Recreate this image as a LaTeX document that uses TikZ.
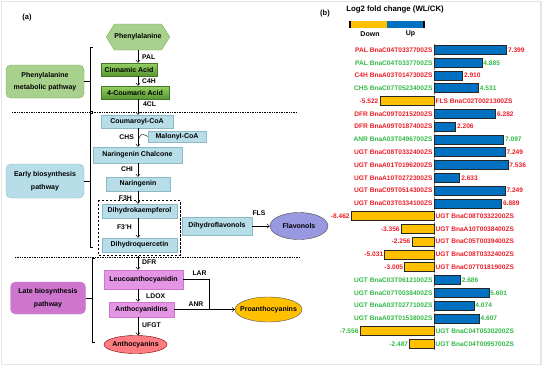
\documentclass[tikz,border=0pt]{standalone}
\usepackage{fontspec}
\setmainfont{Liberation Sans}
\usetikzlibrary{arrows.meta,shapes.symbols,shapes.geometric,fit}

\definecolor{lgreen}{RGB}{169,209,142}
\definecolor{dgreen}{RGB}{112,173,71}
\definecolor{tgreen}{RGB}{150,208,98}
\definecolor{bgreen}{RGB}{88,150,52}
\definecolor{lcyan}{RGB}{183,222,232}
\definecolor{ecyan}{RGB}{140,185,195}
\definecolor{lviolet}{RGB}{228,150,228}
\definecolor{dviolet}{RGB}{206,118,206}
\definecolor{lavender}{RGB}{153,153,225}
\definecolor{salmon}{RGB}{255,125,130}
\definecolor{amber}{RGB}{255,192,0}
\definecolor{upblue}{RGB}{0,112,192}
\definecolor{txtred}{RGB}{235,30,40}
\definecolor{txtgreen}{RGB}{50,185,70}

\begin{document}
\begin{tikzpicture}[x=1pt, y=-1pt,
  font=\fontsize{7}{8}\selectfont\bfseries,
  >={Straight Barb[length=2.6pt,width=4.5pt]},
  grpbox/.style={draw, rounded corners=5pt, align=center, font=\fontsize{7}{12.5}\selectfont\bfseries, minimum width=78pt, minimum height=33pt, inner sep=0},
  greenbox/.style={draw=bgreen!80!black, top color=tgreen, bottom color=bgreen, minimum height=13pt, inner sep=0},
  cyanbox/.style={draw=ecyan, fill=lcyan, inner sep=0},
  violetbox/.style={draw=dviolet, fill=lviolet, inner sep=0},
  product/.style={ellipse, draw, inner sep=0},
  enz/.style={inner sep=0, font=\fontsize{6.8}{7}\selectfont\bfseries},
  upbar/.style={draw=black!85, fill=upblue, line width=0.7pt},
  downbar/.style={draw=black!85, fill=amber, line width=0.7pt},
  gene/.style={inner sep=0.8pt, font=\fontsize{6.6}{7}\selectfont\bfseries},
]
\useasboundingbox (0,0) rectangle (543,367);
\draw[gray!20, line width=1.5pt] (1.5,1.5) rectangle (541,364.5);

% (a) pathway
\node[font=\fontsize{7.5}{8}\selectfont\bfseries] (a) at (27,18) {(a)};
\coordinate (ax) at (138,0);

\node[signal, signal to=west and east, signal pointer angle=116, draw=dgreen, fill=lgreen, minimum width=53pt, minimum height=26pt, inner sep=0] (phe) at (138,37) {Phenylalanine};
\node[greenbox, minimum width=56pt] (cin) at (129,69.5) {Cinnamic Acid};
\node[greenbox, minimum width=68pt] (cou) at (135,92.5) {4-Coumaric Acid};

\node[cyanbox, minimum width=72pt, minimum height=13pt] (coa) at (137,121.5) {Coumaroyl-CoA};
\node[cyanbox, minimum width=58pt, minimum height=11pt] (mal) at (177,136.5) {Malonyl-CoA};
\node[cyanbox, minimum width=89pt, minimum height=16pt] (nch) at (137.5,155) {Naringenin Chalcone};
\node[cyanbox, minimum width=64pt, minimum height=14pt] (nar) at (138,184) {Naringenin};
\node[cyanbox, minimum width=75pt, minimum height=14pt] (dhk) at (139.5,211) {Dihydrokaempferol};
\node[cyanbox, minimum width=75pt, minimum height=14pt] (dhq) at (139.5,245) {Dihydroquercetin};
\node[draw, line width=0.9pt, dash pattern=on 2.5pt off 1.5pt, fit=(dhk)(dhq), inner sep=3pt] (dsh) {};
\node[cyanbox, minimum width=70pt, minimum height=18pt] (dfl) at (217,226) {Dihydroflavonols};
\node[product, draw=black!70, fill=lavender, minimum width=58pt, minimum height=27pt, label=center:{Flavonols}] (fla) at (299,226) {};

\node[violetbox, minimum width=79pt, minimum height=19pt] (leu) at (143.5,279.5) {Leucoanthocyanidin};
\node[violetbox, minimum width=65pt, minimum height=15pt] (acy) at (141.5,309.5) {Anthocyanidins};
\node[product, draw=red!45!black, fill=salmon, minimum width=63pt, minimum height=18pt, label=center:{Anthocyanins}] (acn) at (135.5,344.5) {};
\node[product, draw=black!70, fill=amber, minimum width=67pt, minimum height=25pt, label=center:{Proanthocyanins}] (pro) at (268.5,309.5) {};

\draw[->] (phe.south -| ax) -- (ax |- cin.north);
\draw[->] (cin.south -| ax) -- (ax |- cou.north);
\draw[->] (cou.south -| ax) -- (ax |- coa.north);
\draw[->] (coa.south -| ax) -- (ax |- nch.north);
\coordinate (mj) at (138,141);
\draw (mal.west) .. controls (141,133) .. (mj);
\draw[->] (nch.south -| ax) -- (ax |- nar.north);
\draw[->] (nar.south -| ax) -- (ax |- dhk.north);
\draw[->] (dhk.south -| ax) -- (ax |- dhq.north);
\draw[->] (dfl.east) -- (fla.west);
\draw[->] (dsh.south -| ax) -- (ax |- leu.north);
\draw[->] (leu.south -| ax) -- (ax |- acy.north);
\draw[->] (acy.south -| ax) -- (ax |- acn.north);
\coordinate (lk) at (209,309.5);
\draw (leu.east) -| (lk);
\draw[->] (acy.east) -- (pro.west);

\node[enz, anchor=west] (pal) at (142,57) {PAL};
\node[enz, anchor=west] (c4h) at (142,81) {C4H};
\node[enz, anchor=west] (fcl) at (143,104) {4CL};
\node[enz, anchor=east] (chs) at (134,137) {CHS};
\node[enz, anchor=east] (chi) at (133,169) {CHI};
\node[enz, anchor=east] (f3h) at (132,198) {F3H};
\node[enz, anchor=east] (f3p) at (132,227) {F3'H};
\node[enz] (fls) at (259,213) {FLS};
\node[enz, anchor=west] (dfr) at (142,262) {DFR};
\node[enz, anchor=west] (ldx) at (146,296) {LDOX};
\node[enz, anchor=west] (ufg) at (142,325) {UFGT};
\node[enz] (lar) at (199.5,273) {LAR};
\node[enz] (anr) at (196,304) {ANR};

\node[grpbox, draw=dgreen, fill=lgreen] (g1) at (45,81.5) {Phenylalanine\\metabolic pathway};
\node[grpbox, draw=ecyan, fill=lcyan, minimum height=34pt] (g2) at (45,181) {Early biosynthesis\\pathway};
\node[grpbox, draw=dviolet, fill=dviolet, minimum width=75pt, minimum height=32pt] (g3) at (48,298) {Late biosynthesis\\pathway};

\draw (93,47) -- (90,47) -- (90,111) -- (93,111);
\draw (g1.east) -- ++(6,0);
\draw (93,113) -- (90,113) -- (90,247) -- (93,247);
\draw (g2.east) -- ++(6,0);
\draw (95,258) -- (92,258) -- (92,342) -- (95,342);
\draw (g3.east) -- ++(6.5,0);

\draw[densely dotted, line width=0.7pt] (12,112) -- (296,112);
\draw[densely dotted, line width=0.7pt] (15,257) -- (300,257);

% (b) fold change
\node[font=\fontsize{7.5}{8}\selectfont\bfseries] (b) at (325,14) {(b)};
\node[font=\fontsize{7.8}{8}\selectfont\bfseries] (ttl) at (395,9) {Log2 fold change (WL/CK)};
\fill[amber] (350,21) rectangle (387,28);
\fill[upblue] (387,21) rectangle (424,28);
\draw[line width=1.2pt] (350,21) -- (350,28) (424,21) -- (424,28);
\node (dn) at (370,34) {Down};
\node (up) at (410.5,34) {Up};

\draw[gray, densely dotted] (434,44) -- (434,350);

\draw[upbar] (434,45.5) rectangle ++(72.5,9);
\node[gene, anchor=east, text=txtred] (g01) at (433.5,50) {PAL BnaC04T0337700ZS};
\node[gene, anchor=west, text=txtred] (v01) at (507,50) {7.399};
\draw[upbar] (434,58.3) rectangle ++(47.9,9);
\node[gene, anchor=east, text=txtgreen] (g02) at (433.5,62.8) {PAL BnaC04T0337700ZS};
\node[gene, anchor=west, text=txtgreen] (v02) at (482.4,62.8) {4.885};
\draw[upbar] (434,71.1) rectangle ++(28.5,9);
\node[gene, anchor=east, text=txtred] (g03) at (433.5,75.6) {C4H BnaA03T0147300ZS};
\node[gene, anchor=west, text=txtred] (v03) at (463,75.6) {2.910};
\draw[upbar] (434,83.8) rectangle ++(44.4,9);
\node[gene, anchor=east, text=txtgreen] (g04) at (433.5,88.3) {CHS BnaC07T0523400ZS};
\node[gene, anchor=west, text=txtgreen] (v04) at (478.9,88.3) {4.531};
\draw[downbar] (434,96.6) rectangle ++(-54.1,9);
\node[gene, anchor=west, text=txtred] (g05) at (434.5,101.1) {FLS BnaC02T0021300ZS};
\node[gene, anchor=east, text=txtred] (v05) at (379.4,101.1) {-5.522};
\draw[upbar] (434,109.4) rectangle ++(61.6,9);
\node[gene, anchor=east, text=txtred] (g06) at (433.5,113.9) {DFR BnaC09T0215200ZS};
\node[gene, anchor=west, text=txtred] (v06) at (496.1,113.9) {6.282};
\draw[upbar] (434,122.2) rectangle ++(21.6,9);
\node[gene, anchor=east, text=txtred] (g07) at (433.5,126.7) {DFR BnaA09T0187400ZS};
\node[gene, anchor=west, text=txtred] (v07) at (456.1,126.7) {2.206};
\draw[upbar] (434,135.0) rectangle ++(69.6,9);
\node[gene, anchor=east, text=txtgreen] (g08) at (433.5,139.5) {ANR BnaA03T0496700ZS};
\node[gene, anchor=west, text=txtgreen] (v08) at (504.1,139.5) {7.097};
\draw[upbar] (434,147.7) rectangle ++(71.0,9);
\node[gene, anchor=east, text=txtred] (g09) at (433.5,152.2) {UGT BnaC08T0332400ZS};
\node[gene, anchor=west, text=txtred] (v09) at (505.5,152.2) {7.249};
\draw[upbar] (434,160.5) rectangle ++(73.9,9);
\node[gene, anchor=east, text=txtred] (g10) at (433.5,165.0) {UGT BnaA01T0196200ZS};
\node[gene, anchor=west, text=txtred] (v10) at (508.4,165.0) {7.536};
\draw[upbar] (434,173.3) rectangle ++(25.8,9);
\node[gene, anchor=east, text=txtred] (g11) at (433.5,177.8) {UGT BnaA10T0272300ZS};
\node[gene, anchor=west, text=txtred] (v11) at (460.3,177.8) {2.633};
\draw[upbar] (434,186.1) rectangle ++(71.0,9);
\node[gene, anchor=east, text=txtred] (g12) at (433.5,190.6) {UGT BnaC09T0514300ZS};
\node[gene, anchor=west, text=txtred] (v12) at (505.5,190.6) {7.249};
\draw[upbar] (434,198.9) rectangle ++(67.5,9);
\node[gene, anchor=east, text=txtred] (g13) at (433.5,203.4) {UGT BnaC03T0334100ZS};
\node[gene, anchor=west, text=txtred] (v13) at (502,203.4) {6.889};
\draw[downbar] (434,211.6) rectangle ++(-82.9,9);
\node[gene, anchor=west, text=txtred] (g14) at (434.5,216.1) {UGT BnaC08T0332200ZS};
\node[gene, anchor=east, text=txtred] (v14) at (350.6,216.1) {-8.462};
\draw[downbar] (434,224.4) rectangle ++(-32.9,9);
\node[gene, anchor=west, text=txtred] (g15) at (434.5,228.9) {UGT BnaA10T0038400ZS};
\node[gene, anchor=east, text=txtred] (v15) at (400.6,228.9) {-3.356};
\draw[downbar] (434,237.2) rectangle ++(-22.1,9);
\node[gene, anchor=west, text=txtred] (g16) at (434.5,241.7) {UGT BnaC05T0039400ZS};
\node[gene, anchor=east, text=txtred] (v16) at (411.4,241.7) {-2.256};
\draw[downbar] (434,250.0) rectangle ++(-49.3,9);
\node[gene, anchor=west, text=txtred] (g17) at (434.5,254.5) {UGT BnaC08T0332400ZS};
\node[gene, anchor=east, text=txtred] (v17) at (384.2,254.5) {-5.031};
\draw[downbar] (434,262.8) rectangle ++(-29.4,9);
\node[gene, anchor=west, text=txtred] (g18) at (434.5,267.3) {UGT BnaC07T0181900ZS};
\node[gene, anchor=east, text=txtred] (v18) at (404.1,267.3) {-3.005};
\draw[upbar] (434,275.5) rectangle ++(26.3,9);
\node[gene, anchor=east, text=txtgreen] (g19) at (433.5,280.0) {UGT BnaC03T0612100ZS};
\node[gene, anchor=west, text=txtgreen] (v19) at (460.8,280.0) {2.686};
\draw[upbar] (434,288.3) rectangle ++(54.9,9);
\node[gene, anchor=east, text=txtgreen] (g20) at (433.5,292.8) {UGT BnaC07T0038400ZS};
\node[gene, anchor=west, text=txtgreen] (v20) at (489.4,292.8) {5.601};
\draw[upbar] (434,301.1) rectangle ++(39.9,9);
\node[gene, anchor=east, text=txtgreen] (g21) at (433.5,305.6) {UGT BnaA03T0277100ZS};
\node[gene, anchor=west, text=txtgreen] (v21) at (474.4,305.6) {4.074};
\draw[upbar] (434,313.9) rectangle ++(45.1,9);
\node[gene, anchor=east, text=txtgreen] (g22) at (433.5,318.4) {UGT BnaA03T0153800ZS};
\node[gene, anchor=west, text=txtgreen] (v22) at (479.6,318.4) {4.607};
\draw[downbar] (434,326.7) rectangle ++(-74.0,9);
\node[gene, anchor=west, text=txtgreen] (g23) at (434.5,331.2) {UGT BnaC04T0530200ZS};
\node[gene, anchor=east, text=txtgreen] (v23) at (359.5,331.2) {-7.556};
\draw[downbar] (434,339.4) rectangle ++(-24.4,9);
\node[gene, anchor=west, text=txtgreen] (g24) at (434.5,343.9) {UGT BnaC04T0095700ZS};
\node[gene, anchor=east, text=txtgreen] (v24) at (409.1,343.9) {-2.487};
\end{tikzpicture}
\end{document}
